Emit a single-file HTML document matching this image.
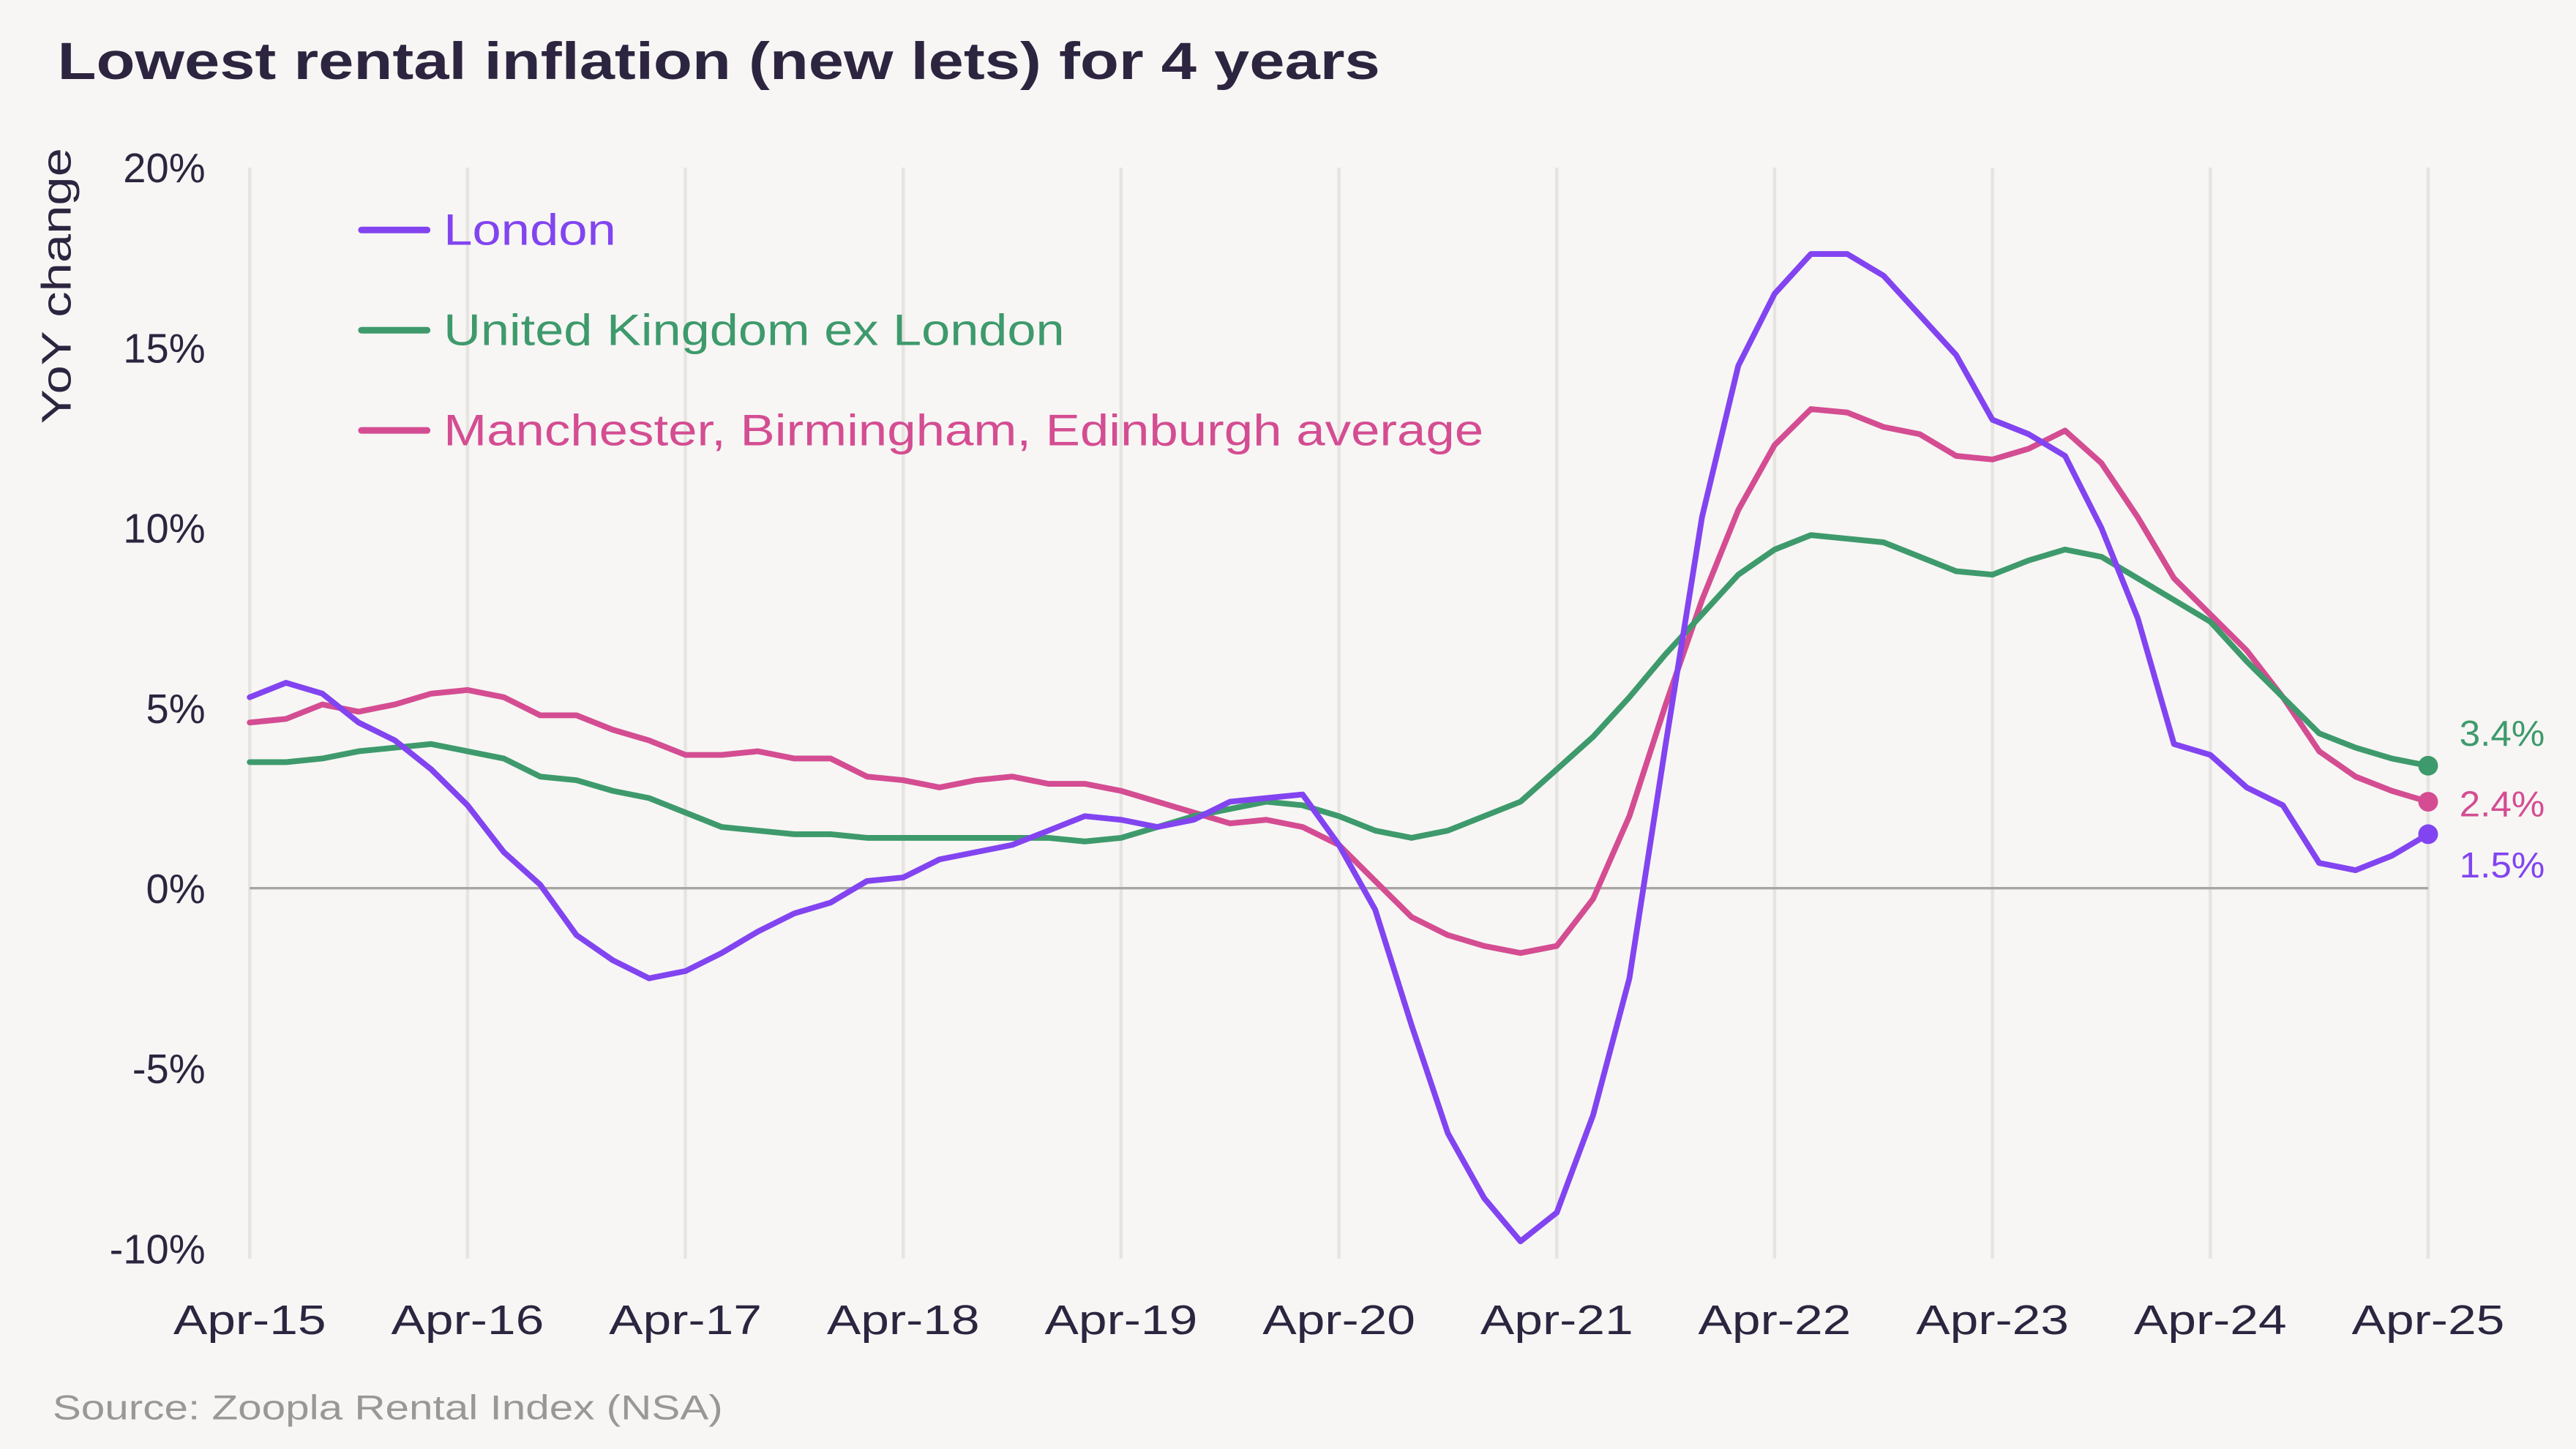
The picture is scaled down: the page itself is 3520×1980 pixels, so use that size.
<!DOCTYPE html>
<html><head><meta charset="utf-8"><style>
html,body{margin:0;padding:0;background:#f7f6f4;}
svg{display:block;}
text{font-family:"Liberation Sans",sans-serif;}
</style></head><body>
<svg id="chart" width="3520" height="1980" viewBox="0 0 1568 882" xmlns="http://www.w3.org/2000/svg">
<rect width="1568" height="882" fill="#f7f6f4"/>
<text x="35" y="48" font-size="32" font-weight="bold" fill="#2d2540" textLength="805" lengthAdjust="spacingAndGlyphs">Lowest rental inflation (new lets) for 4 years</text>
<text transform="translate(43,174) rotate(-90)" text-anchor="middle" font-size="25" fill="#2d2540" textLength="168" lengthAdjust="spacingAndGlyphs">YoY change</text>
<text x="32" y="864" font-size="21" fill="#9a9896" textLength="408" lengthAdjust="spacingAndGlyphs">Source: Zoopla Rental Index (NSA)</text>
<g id="grid"></g><g id="yt"></g><g id="xt"></g><g id="lines"></g><g id="legend"></g>
</svg>
<script>
const xLabels=["Apr-15","Apr-16","Apr-17","Apr-18","Apr-19","Apr-20","Apr-21","Apr-22","Apr-23","Apr-24","Apr-25"];
const yTicks=[20,15,10,5,0,-5,-10];
const london=[5.3,5.7,5.4,4.6,4.1,3.3,2.3,1.0,0.1,-1.3,-2.0,-2.5,-2.3,-1.8,-1.2,-0.7,-0.4,0.2,0.3,0.8,1.0,1.2,1.6,2.0,1.9,1.7,1.9,2.4,2.5,2.6,1.2,-0.6,-3.8,-6.8,-8.6,-9.8,-9.0,-6.3,-2.5,4.0,10.3,14.5,16.5,17.6,17.6,17.0,15.9,14.8,13.0,12.6,12.0,10.0,7.5,4.0,3.7,2.8,2.3,0.7,0.5,0.9,1.5];
const ukExLondon=[3.5,3.5,3.6,3.8,3.9,4.0,3.8,3.6,3.1,3.0,2.7,2.5,2.1,1.7,1.6,1.5,1.5,1.4,1.4,1.4,1.4,1.4,1.4,1.3,1.4,1.7,2.0,2.2,2.4,2.3,2.0,1.6,1.4,1.6,2.0,2.4,3.3,4.2,5.3,6.5,7.6,8.7,9.4,9.8,9.7,9.6,9.2,8.8,8.7,9.1,9.4,9.2,8.6,8.0,7.4,6.3,5.3,4.3,3.9,3.6,3.4];
const cities=[4.6,4.7,5.1,4.9,5.1,5.4,5.5,5.3,4.8,4.8,4.4,4.1,3.7,3.7,3.8,3.6,3.6,3.1,3.0,2.8,3.0,3.1,2.9,2.9,2.7,2.4,2.1,1.8,1.9,1.7,1.2,0.2,-0.8,-1.3,-1.6,-1.8,-1.6,-0.3,2.0,5.1,8.0,10.5,12.3,13.3,13.2,12.8,12.6,12.0,11.9,12.2,12.7,11.8,10.3,8.6,7.6,6.6,5.3,3.8,3.1,2.7,2.4];
const seriesNames=["London","United Kingdom ex London","Manchester, Birmingham, Edinburgh average"];
const endLabels=["1.5%","3.4%","2.4%"];

const NS="http://www.w3.org/2000/svg";
const X0=152,X1=1478,YTOP=102,YBOT=760;
const xs=i=>X0+(X1-X0)*i/(london.length-1);
const ys=v=>YTOP+(20-v)/30*(YBOT-YTOP);
function mk(tag,attrs,parent){const e=document.createElementNS(NS,tag);for(const k in attrs)e.setAttribute(k,attrs[k]);parent.appendChild(e);return e;}
const grid=document.getElementById('grid'),yt=document.getElementById('yt'),xt=document.getElementById('xt'),lines=document.getElementById('lines'),legend=document.getElementById('legend');
xLabels.forEach((l,i)=>{
  const x=X0+(X1-X0)*i/(xLabels.length-1);
  const g=mk('line',{x1:x,x2:x,y1:YTOP,y2:YBOT+6,stroke:'#e6e4e1','stroke-width':2},grid);
  
  
  const t=mk('text',{x:x,y:812,'text-anchor':'middle','font-size':25,fill:'#2d2540',textLength:93,lengthAdjust:'spacingAndGlyphs'},xt);t.textContent=l;
  
  
});
yTicks.forEach(v=>{
  const t=mk('text',{x:125,y:ys(v)+9,'text-anchor':'end','font-size':25,fill:'#2d2540'},yt);t.textContent=v+'%';
  
  
});
const z=mk('line',{x1:X0,x2:X1,y1:ys(0),y2:ys(0),stroke:'#a8a6a4','stroke-width':1.5},grid);


const colors=["#8244f0","#3e9a6c","#d44d92"];
const data=[london,ukExLondon,cities];
const order=[2,1,0];
order.forEach(s=>{
  const d=data[s].map((v,i)=>(i?'L':'M')+xs(i).toFixed(1)+','+ys(v).toFixed(1)).join(' ');
  const p=mk('path',{d:d,fill:'none',stroke:colors[s],'stroke-width':3.5,'stroke-linejoin':'round','stroke-linecap':'round'},lines);
  
  
  const last=data[s].length-1;
  const c=mk('circle',{cx:xs(last),cy:ys(data[s][last]),r:6,fill:colors[s]},lines);
  
  
});
const labYs=[534,454,497];
endLabels.forEach((l,s)=>{
  const t=mk('text',{x:1497,y:labYs[s],'font-size':22,fill:colors[s],textLength:52,lengthAdjust:'spacingAndGlyphs'},lines);t.textContent=l;
  
  
});
const legW=[105,378,633];
seriesNames.forEach((n,s)=>{
  const y=140+s*61;
  const l=mk('line',{x1:220,x2:260,y1:y,y2:y,stroke:colors[s],'stroke-width':4,'stroke-linecap':'round'},legend);
  
  
  const t=mk('text',{x:270,y:y+9,'font-size':27,fill:colors[s],textLength:legW[s],lengthAdjust:'spacingAndGlyphs'},legend);t.textContent=n;
  
  
});
</script>
</body></html>
